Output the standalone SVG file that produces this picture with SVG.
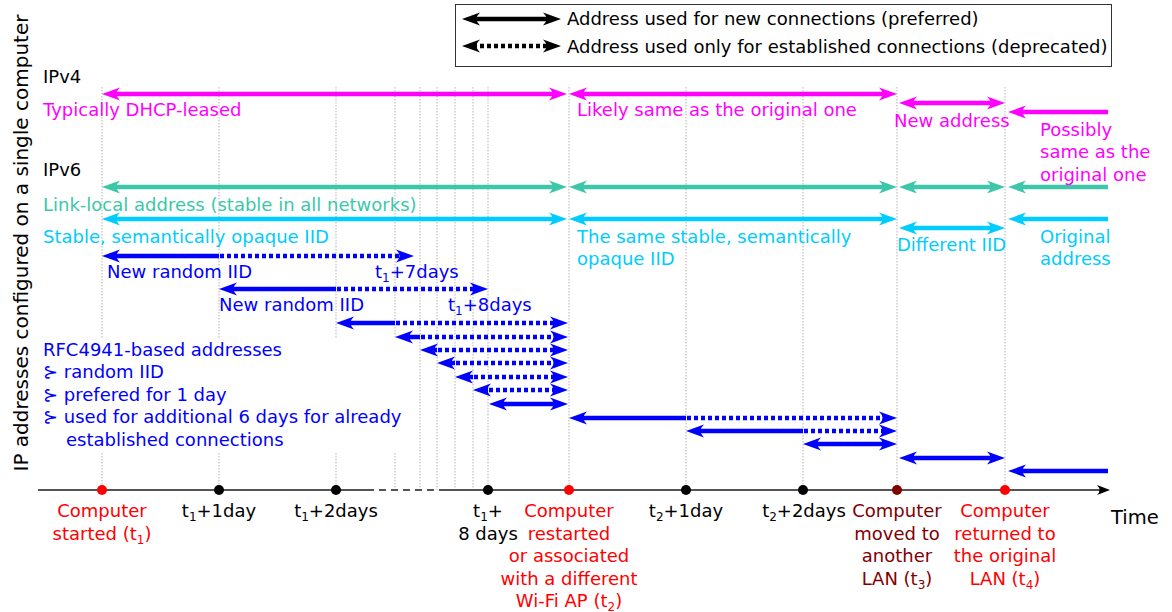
<svg xmlns="http://www.w3.org/2000/svg" width="1172" height="612" viewBox="0 0 1172 612">
<style>
text{font-family:"DejaVu Sans","Liberation Sans",sans-serif;font-size:18px}
.grid{stroke:#b3b3b3;stroke-width:1;stroke-dasharray:1.5 1.5;fill:none}
.a{fill:none;stroke-width:4.5}
.d{fill:none;stroke-width:4.5;stroke-dasharray:4 3}
.m{stroke:#ff00ff}.g{stroke:#3cc8a8}.c{stroke:#00ccff}.b{stroke:#0000ff}.k{stroke:#000}
.tm{fill:#ff00ff}.tg{fill:#3cc8a8}.tc{fill:#00ccff}.tb{fill:#0000ff}.tr{fill:#ff0000}.td{fill:#800000}.tk{fill:#000}
.sub{font-size:12px}
</style>
<defs>
<marker id="hm" markerUnits="userSpaceOnUse" markerWidth="24" markerHeight="16" viewBox="-20 -8 24 16" refX="-11" refY="0" orient="auto-start-reverse" overflow="visible"><path d="M0,0 L-18,-6.5 Q-11,0 -18,6.5 Z" fill="#ff00ff"/></marker>
<marker id="hg" markerUnits="userSpaceOnUse" markerWidth="24" markerHeight="16" viewBox="-20 -8 24 16" refX="-11" refY="0" orient="auto-start-reverse" overflow="visible"><path d="M0,0 L-18,-6.5 Q-11,0 -18,6.5 Z" fill="#3cc8a8"/></marker>
<marker id="hc" markerUnits="userSpaceOnUse" markerWidth="24" markerHeight="16" viewBox="-20 -8 24 16" refX="-11" refY="0" orient="auto-start-reverse" overflow="visible"><path d="M0,0 L-18,-6.5 Q-11,0 -18,6.5 Z" fill="#00ccff"/></marker>
<marker id="hb" markerUnits="userSpaceOnUse" markerWidth="24" markerHeight="16" viewBox="-20 -8 24 16" refX="-11" refY="0" orient="auto-start-reverse" overflow="visible"><path d="M0,0 L-18,-6.5 Q-11,0 -18,6.5 Z" fill="#0000ff"/></marker>
<marker id="hk" markerUnits="userSpaceOnUse" markerWidth="24" markerHeight="16" viewBox="-20 -8 24 16" refX="-11" refY="0" orient="auto-start-reverse" overflow="visible"><path d="M0,0 L-18,-6.5 Q-11,0 -18,6.5 Z" fill="#000"/></marker>
<marker id="hax" markerUnits="userSpaceOnUse" markerWidth="20" markerHeight="14" viewBox="-16 -7 20 14" refX="-6" refY="0" orient="auto" overflow="visible"><path d="M0,0 L-13,-5 Q-8,0 -13,5 Z" fill="#000"/></marker>
</defs>
<rect width="1172" height="612" fill="#fff"/>

<g id="gridlines">
<path class="grid" d="M102,87V490M219,87V490M336,87V490M395,87V490M420,87V490M437,87V490M455,87V490M473,87V490M488,87V490M569,87V490M686,87V490M803,87V490M897,87V490M1005,87V490"/>
<rect x="40" y="338" width="362" height="115" fill="#fff"/>
</g>

<g id="legend">
<rect x="455.5" y="4.5" width="656" height="62" fill="#fff" stroke="#333" stroke-width="1"/>
<line class="a k" x1="473" y1="19" x2="550" y2="19" marker-start="url(#hk)" marker-end="url(#hk)"/>
<line class="d k" x1="473" y1="46" x2="550" y2="46" marker-start="url(#hk)" marker-end="url(#hk)"/>
<text x="567" y="25" class="tk">Address used for new connections (preferred)</text>
<text x="567" y="53" class="tk">Address used only for established connections (deprecated)</text>
</g>

<g id="y-axis-label">
<text transform="translate(28,243) rotate(-90)" text-anchor="middle" class="tk" style="font-size:20px">IP addresses configured on a single computer</text>
</g>

<g id="time-axis">
<line x1="38" y1="490" x2="367" y2="490" stroke="#555" stroke-width="2"/>
<line x1="367" y1="490" x2="442" y2="490" stroke="#555" stroke-width="2" stroke-dasharray="7 5"/>
<line x1="442" y1="490" x2="1104" y2="490" stroke="#555" stroke-width="2" marker-end="url(#hax)"/>
<circle cx="102" cy="490" r="5" fill="#ff0000"/>
<circle cx="219" cy="490" r="5" fill="#000"/>
<circle cx="336" cy="490" r="5" fill="#000"/>
<circle cx="488" cy="490" r="5" fill="#000"/>
<circle cx="569" cy="490" r="5" fill="#ff0000"/>
<circle cx="686" cy="490" r="5" fill="#000"/>
<circle cx="803" cy="490" r="5" fill="#000"/>
<circle cx="897" cy="490" r="5" fill="#800000"/>
<circle cx="1005" cy="490" r="5" fill="#ff0000"/>
<text x="1111" y="524" class="tk" style="font-size:19.5px">Time</text>
</g>

<g id="connectors">
<line class="a m" x1="113" y1="94" x2="556" y2="94" marker-start="url(#hm)" marker-end="url(#hm)"/>
<line class="a m" x1="580" y1="94" x2="886" y2="94" marker-start="url(#hm)" marker-end="url(#hm)"/>
<line class="a m" x1="910" y1="103" x2="994" y2="103" marker-start="url(#hm)" marker-end="url(#hm)"/>
<line class="a m" x1="1019" y1="112" x2="1108" y2="112" marker-start="url(#hm)"/>

<line class="a g" x1="113" y1="187" x2="556" y2="187" marker-start="url(#hg)" marker-end="url(#hg)"/>
<line class="a g" x1="580" y1="187" x2="886" y2="187" marker-start="url(#hg)" marker-end="url(#hg)"/>
<line class="a g" x1="910" y1="187" x2="994" y2="187" marker-start="url(#hg)" marker-end="url(#hg)"/>
<line class="a g" x1="1019" y1="187" x2="1108" y2="187" marker-start="url(#hg)"/>

<line class="a c" x1="113" y1="219" x2="556" y2="219" marker-start="url(#hc)" marker-end="url(#hc)"/>
<line class="a c" x1="580" y1="219" x2="886" y2="219" marker-start="url(#hc)" marker-end="url(#hc)"/>
<line class="a c" x1="910" y1="228" x2="994" y2="228" marker-start="url(#hc)" marker-end="url(#hc)"/>
<line class="a c" x1="1019" y1="219" x2="1108" y2="219" marker-start="url(#hc)"/>

<line class="a b" x1="113" y1="256" x2="219" y2="256" marker-start="url(#hb)"/>
<line class="d b" x1="220" y1="256" x2="403" y2="256" marker-end="url(#hb)"/>
<line class="a b" x1="230" y1="289" x2="336" y2="289" marker-start="url(#hb)"/>
<line class="d b" x1="337" y1="289" x2="477" y2="289" marker-end="url(#hb)"/>
<line class="a b" x1="347" y1="323" x2="395" y2="323" marker-start="url(#hb)"/>
<line class="d b" x1="396" y1="323" x2="557" y2="323" marker-end="url(#hb)"/>
<line class="a b" x1="406" y1="337" x2="420" y2="337" marker-start="url(#hb)"/>
<line class="d b" x1="421" y1="337" x2="557" y2="337" marker-end="url(#hb)"/>
<line class="a b" x1="431" y1="350" x2="437" y2="350" marker-start="url(#hb)"/>
<line class="d b" x1="438" y1="350" x2="557" y2="350" marker-end="url(#hb)"/>
<line class="a b" x1="448" y1="363" x2="455" y2="363" marker-start="url(#hb)"/>
<line class="d b" x1="456" y1="363" x2="557" y2="363" marker-end="url(#hb)"/>
<line class="a b" x1="466" y1="377" x2="473" y2="377" marker-start="url(#hb)"/>
<line class="d b" x1="474" y1="377" x2="557" y2="377" marker-end="url(#hb)"/>
<line class="a b" x1="484" y1="390" x2="488" y2="390" marker-start="url(#hb)"/>
<line class="d b" x1="489" y1="390" x2="557" y2="390" marker-end="url(#hb)"/>
<line class="a b" x1="500" y1="404" x2="557" y2="404" marker-start="url(#hb)" marker-end="url(#hb)"/>
<line class="a b" x1="580" y1="418" x2="686" y2="418" marker-start="url(#hb)"/>
<line class="d b" x1="687" y1="418" x2="886" y2="418" marker-end="url(#hb)"/>
<line class="a b" x1="697" y1="431" x2="803" y2="431" marker-start="url(#hb)"/>
<line class="d b" x1="804" y1="431" x2="886" y2="431" marker-end="url(#hb)"/>
<line class="a b" x1="814" y1="444" x2="886" y2="444" marker-start="url(#hb)" marker-end="url(#hb)"/>
<line class="a b" x1="910" y1="458" x2="994" y2="458" marker-start="url(#hb)" marker-end="url(#hb)"/>
<line class="a b" x1="1019" y1="471" x2="1108" y2="471" marker-start="url(#hb)"/>
</g>

<g id="ipv4">
<text x="43" y="83" class="tk">IPv4</text>
<text x="43" y="116" class="tm">Typically DHCP-leased</text>
<text x="577" y="116" class="tm">Likely same as the original one</text>
<text x="894" y="127" class="tm">New address</text>
<text x="1040" y="136" class="tm">Possibly</text>
<text x="1040" y="158" class="tm">same as the</text>
<text x="1040" y="181" class="tm">original one</text>
</g>

<g id="ipv6">
<text x="43" y="176" class="tk">IPv6</text>
<text x="43" y="211" class="tg">Link-local address (stable in all networks)</text>
<text x="43" y="243" class="tc">Stable, semantically opaque IID</text>
<text x="577" y="243" class="tc">The same stable, semantically</text>
<text x="577" y="265" class="tc">opaque IID</text>
<text x="897" y="251" class="tc">Different IID</text>
<text x="1040" y="243" class="tc">Original</text>
<text x="1040" y="265" class="tc">address</text>
</g>

<g id="random-iids">
<text x="107" y="278" class="tb">New random IID</text>
<text x="375" y="278" class="tb">t<tspan class="sub" dy="4">1</tspan><tspan dy="-4">+7days</tspan></text>
<text x="219" y="311" class="tb">New random IID</text>
<text x="448" y="311" class="tb">t<tspan class="sub" dy="4">1</tspan><tspan dy="-4">+8days</tspan></text>
</g>

<g id="rfc4941-note">
<text x="43" y="356" class="tb">RFC4941-based addresses</text>
<text x="43" y="378" class="tb">⊱ random IID</text>
<text x="43" y="401" class="tb">⊱ prefered for 1 day</text>
<text x="43" y="423" class="tb">⊱ used for additional 6 days for already</text>
<text x="66" y="446" class="tb">established connections</text>
</g>

<g id="axis-labels" text-anchor="middle">
<text x="102" y="517" class="tr">Computer</text>
<text x="102" y="540" class="tr">started (t<tspan class="sub" dy="4">1</tspan><tspan dy="-4">)</tspan></text>
<text x="219" y="517" class="tk">t<tspan class="sub" dy="4">1</tspan><tspan dy="-4">+1day</tspan></text>
<text x="336" y="517" class="tk">t<tspan class="sub" dy="4">1</tspan><tspan dy="-4">+2days</tspan></text>
<text x="488" y="517" class="tk">t<tspan class="sub" dy="4">1</tspan><tspan dy="-4">+</tspan></text>
<text x="488" y="540" class="tk">8 days</text>
<text x="569" y="517" class="tr">Computer</text>
<text x="569" y="540" class="tr">restarted</text>
<text x="569" y="562" class="tr">or associated</text>
<text x="569" y="585" class="tr">with a different</text>
<text x="569" y="607" class="tr">Wi-Fi AP (t<tspan class="sub" dy="4">2</tspan><tspan dy="-4">)</tspan></text>
<text x="686" y="517" class="tk">t<tspan class="sub" dy="4">2</tspan><tspan dy="-4">+1day</tspan></text>
<text x="804" y="517" class="tk">t<tspan class="sub" dy="4">2</tspan><tspan dy="-4">+2days</tspan></text>
<text x="897" y="517" class="td">Computer</text>
<text x="897" y="540" class="td">moved to</text>
<text x="897" y="562" class="td">another</text>
<text x="897" y="585" class="td">LAN (t<tspan class="sub" dy="4">3</tspan><tspan dy="-4">)</tspan></text>
<text x="1005" y="517" class="tr">Computer</text>
<text x="1005" y="540" class="tr">returned to</text>
<text x="1005" y="562" class="tr">the original</text>
<text x="1005" y="585" class="tr">LAN (t<tspan class="sub" dy="4">4</tspan><tspan dy="-4">)</tspan></text>
</g>
</svg>
